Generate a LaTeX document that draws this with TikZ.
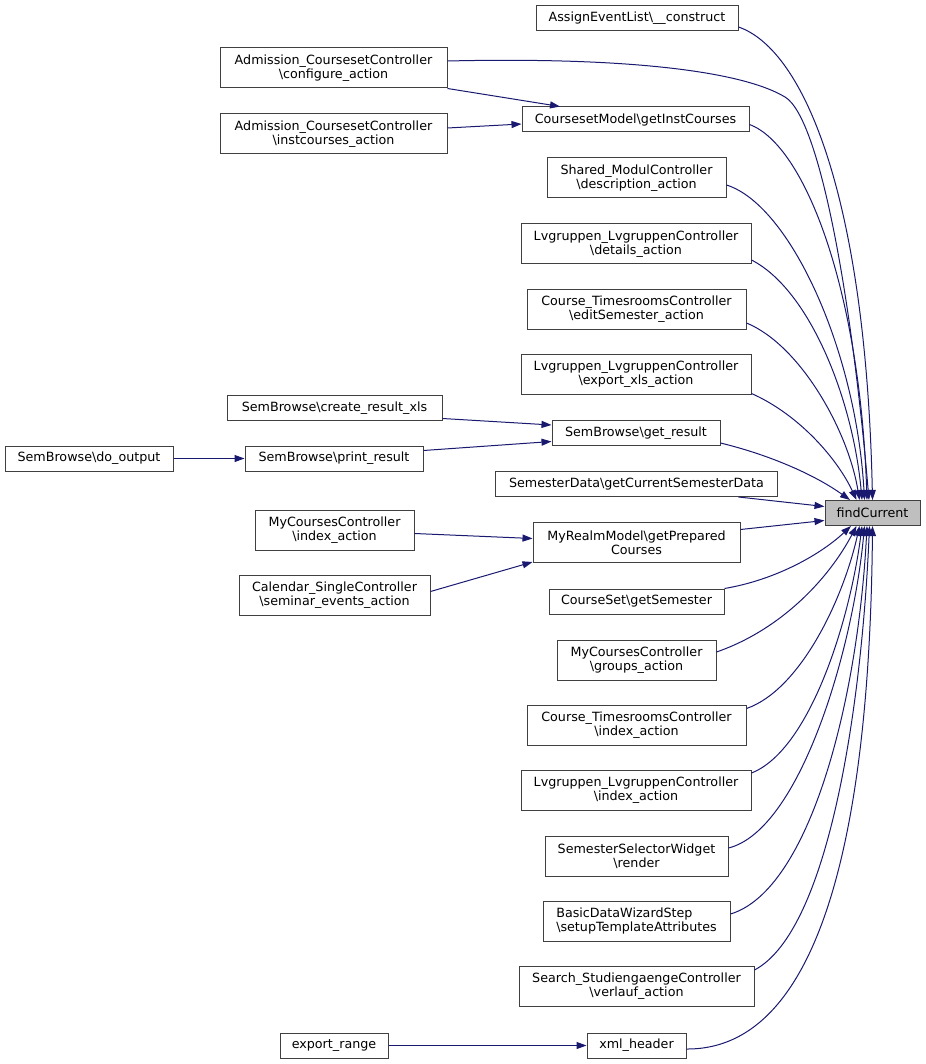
\documentclass[tikz,border=0pt]{standalone}
\usepackage{fontspec}
\setmainfont{DejaVu Sans}
\usetikzlibrary{arrows.meta}
\definecolor{edgeblue}{RGB}{25,25,112}
\definecolor{nodeborder}{RGB}{64,64,64}
\definecolor{focusfill}{RGB}{191,191,191}
\tikzset{
  fn/.style={draw=nodeborder, line width=1pt, inner sep=0pt, minimum height=25pt,
    align=center, font=\fontsize{12.7}{14.3}\selectfont},
  two/.style={minimum height=40pt},
  call/.style={draw=edgeblue, line width=1pt, -{Triangle[length=10pt,width=7pt]}},
}
\newcommand{\bs}{\textbackslash}
\begin{document}
\begin{tikzpicture}[x=1pt,y=-1pt]
\useasboundingbox (0,0) rectangle (925,1064);
% nodes
\node[fn, minimum width=202pt] (ael) at (637,18.5) {AssignEventList\bs\_\_construct};
\node[fn, two, minimum width=227pt] (acc) at (333.5,68) {Admission\_CoursesetController\\\bs configure\_action};
\node[fn, minimum width=227pt] (cgi) at (635.5,119.5) {CoursesetModel\bs getInstCourses};
\node[fn, two, minimum width=227pt] (aci) at (333.5,134) {Admission\_CoursesetController\\\bs instcourses\_action};
\node[fn, two, minimum width=179pt] (smc) at (636.5,178) {Shared\_ModulController\\\bs description\_action};
\node[fn, two, minimum width=230pt] (lvd) at (636,244) {Lvgruppen\_LvgruppenController\\\bs details\_action};
\node[fn, two, minimum width=219pt] (ctes) at (636.5,309) {Course\_TimesroomsController\\\bs editSemester\_action};
\node[fn, two, minimum width=230pt] (lvx) at (636,374) {Lvgruppen\_LvgruppenController\\\bs export\_xls\_action};
\node[fn, minimum width=215pt] (crx) at (334.5,408) {SemBrowse\bs create\_result\_xls};
\node[fn, minimum width=168pt] (sgr) at (636,433) {SemBrowse\bs get\_result};
\node[fn, minimum width=168pt] (sdo) at (89,458.5) {SemBrowse\bs do\_output};
\node[fn, minimum width=178pt] (spr) at (334,458.5) {SemBrowse\bs print\_result};
\node[fn, minimum width=282pt] (sdc) at (636.5,484) {SemesterData\bs getCurrentSemesterData};
\node[fn, minimum width=95pt, fill=focusfill] (fc) at (872.5,513) {findCurrent};
\node[fn, two, minimum width=159pt] (mci) at (334.5,530.5) {MyCoursesController\\\bs index\_action};
\node[fn, two, minimum width=207pt] (mrm) at (636.5,542.5) {MyRealmModel\bs getPrepared\\Courses};
\node[fn, two, minimum width=191pt] (csc) at (334.5,595.5) {Calendar\_SingleController\\\bs seminar\_events\_action};
\node[fn, minimum width=175pt] (csg) at (636.5,601.5) {CourseSet\bs getSemester};
\node[fn, two, minimum width=159pt] (mcg) at (636.5,660) {MyCoursesController\\\bs groups\_action};
\node[fn, two, minimum width=219pt] (cti) at (636.5,725) {Course\_TimesroomsController\\\bs index\_action};
\node[fn, two, minimum width=230pt] (lvi) at (636,790.5) {Lvgruppen\_LvgruppenController\\\bs index\_action};
\node[fn, two, minimum width=183pt] (ssw) at (636.5,856) {SemesterSelectorWidget\\\bs render};
\node[fn, two, minimum width=187pt, align=left] (bdw) at (636.5,921) {BasicDataWizardStep\\\bs setupTemplateAttributes};
\node[fn, two, minimum width=235pt] (ssv) at (636.5,986.5) {Search\_StudiengaengeController\\\bs verlauf\_action};
\node[fn, minimum width=108pt] (exr) at (334,1045.5) {export\_range};
\node[fn, minimum width=99pt] (xmh) at (636.5,1045.5) {xml\_header};
% edges into findCurrent from above
\draw[call] ([yshift=-8.5pt]ael.east) .. controls (805,50) and (866,200) .. ([xshift=0pt]fc.north);
\draw[call] ([yshift=7pt]acc.east) .. controls (620,57) and (740,70) .. (785,97) .. controls (820,118) and (852,300) .. ([xshift=-3.5pt]fc.north);
\draw[call] ([yshift=-5pt]cgi.east) .. controls (805,145) and (860,290) .. ([xshift=-5.5pt]fc.north);
\draw[call] ([yshift=-7pt]smc.east) .. controls (790,205) and (856,350) .. ([xshift=-8pt]fc.north);
\draw[call] ([yshift=-16pt]lvd.east) .. controls (810,290) and (853,400) .. ([xshift=-10.5pt]fc.north);
\draw[call] ([yshift=-14pt]ctes.east) .. controls (800,345) and (848,430) .. ([xshift=-13pt]fc.north);
\draw[call] ([yshift=1pt]lvx.south east) .. controls (800,415) and (838,460) .. ([xshift=-16pt]fc.north);
\draw[call] ([yshift=-10pt]sgr.east) .. controls (770,455) and (815,475) .. ([xshift=-22.5pt]fc.north);
% straight into findCurrent
\draw[call] ([xshift=102pt]sdc.south) -- ([yshift=6.5pt]fc.west);
\draw[call] ([yshift=13pt]mrm.east) -- ([yshift=-7.5pt]fc.west);
% edges into findCurrent from below
\draw[call] (csg.north east) .. controls (775,580) and (820,555) .. ([xshift=-21.5pt]fc.south);
\draw[call] ([yshift=8pt]mcg.east) .. controls (780,630) and (828,580) .. ([xshift=-16pt]fc.south);
\draw[call] ([yshift=-4pt]cti.north east) .. controls (800,690) and (843,600) .. ([xshift=-13pt]fc.south);
\draw[call] ([yshift=-3pt]lvi.north east) .. controls (810,750) and (850,620) .. ([xshift=-10.5pt]fc.south);
\draw[call] ([yshift=8pt]ssw.east) .. controls (800,830) and (853,650) .. ([xshift=-8pt]fc.south);
\draw[call] ([yshift=7pt]bdw.east) .. controls (810,890) and (858,700) .. ([xshift=-5.5pt]fc.south);
\draw[call] ([yshift=-4pt]ssv.north east) .. controls (830,930) and (862,700) .. ([xshift=-3pt]fc.south);
\draw[call] ([yshift=-3.5pt]xmh.east) .. controls (830,1050) and (870,800) .. ([xshift=0pt]fc.south);
% left-side edges
\draw[call] (acc.south east) -- ([xshift=-75.5pt]cgi.north);
\draw[call] ([yshift=6pt]aci.east) -- ([yshift=-4.5pt]cgi.west);
\draw[call] ([yshift=-10.5pt]crx.east) -- ([yshift=8pt]sgr.west);
\draw[call] ([yshift=8pt]spr.east) -- ([yshift=-8.5pt]sgr.west);
\draw[call] (sdo.east) -- (spr.west);
\draw[call] ([yshift=-3pt]mci.east) -- ([yshift=4pt]mrm.west);
\draw[call] ([yshift=-16.5pt]csc.north east) -- ([yshift=1pt]mrm.south west);
\draw[call] (exr.east) -- (xmh.west);
\end{tikzpicture}
\end{document}
